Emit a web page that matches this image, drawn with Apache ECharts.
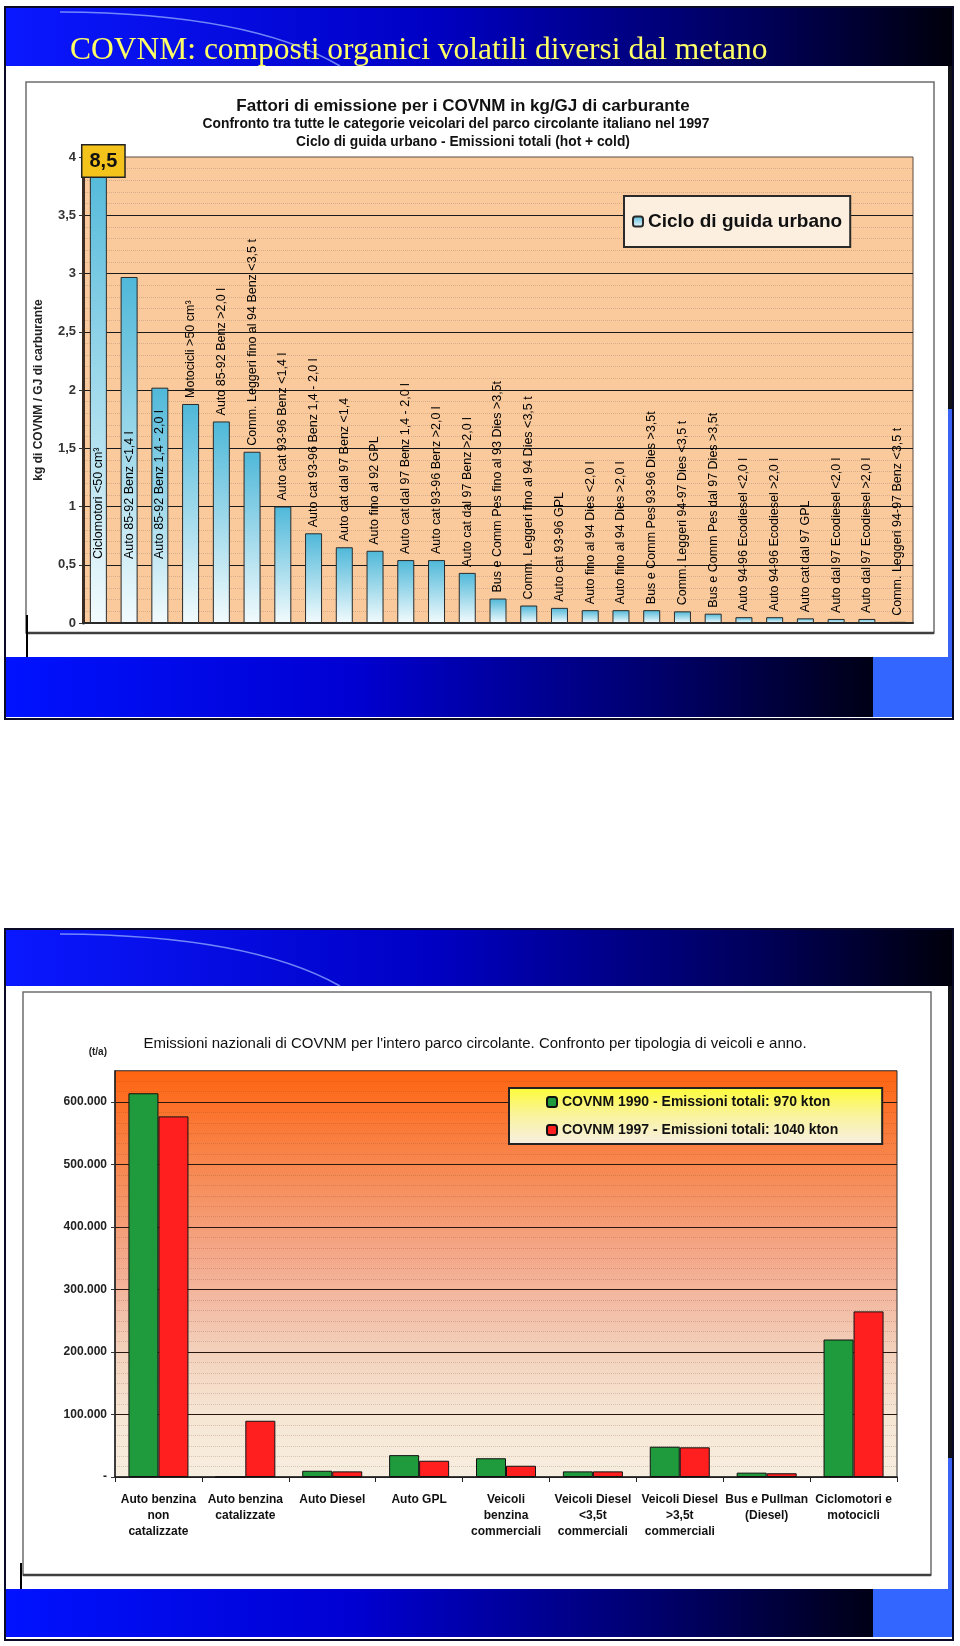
<!DOCTYPE html>
<html>
<head>
<meta charset="utf-8">
<script src="https://cdn.jsdelivr.net/npm/echarts@6/dist/echarts.min.js"></script>
<style>
html,body{margin:0;padding:0;background:#fff;}
#c{width:960px;height:1646px;}
</style>
</head>
<body>
<div id="c"></div>
<script>
// ---------------- DATA: chart 1 (emission factors, kg/GJ) ----------------
const cat1 = [
  'Ciclomotori <50 cm³',
  'Auto 85-92 Benz <1,4 l',
  'Auto 85-92 Benz 1,4 - 2,0 l',
  'Motocicli >50 cm³',
  'Auto 85-92 Benz >2,0 l',
  'Comm. Leggeri fino al 94 Benz <3,5 t',
  'Auto cat 93-96 Benz <1,4 l',
  'Auto cat 93-96 Benz 1,4 - 2,0 l',
  'Auto cat dal 97 Benz <1,4',
  'Auto fino al 92 GPL',
  'Auto cat dal 97 Benz 1,4 - 2,0 l',
  'Auto cat 93-96 Benz >2,0 l',
  'Auto cat dal 97 Benz >2,0 l',
  'Bus e Comm Pes fino al 93 Dies >3,5t',
  'Comm. Leggeri fino al 94 Dies <3,5 t',
  'Auto cat 93-96 GPL',
  'Auto fino al 94 Dies <2,0 l',
  'Auto fino al 94 Dies >2,0 l',
  'Bus e Comm Pes 93-96 Dies >3,5t',
  'Comm. Leggeri 94-97 Dies <3,5 t',
  'Bus e Comm Pes dal 97 Dies >3,5t',
  'Auto 94-96 Ecodiesel <2,0 l',
  'Auto 94-96 Ecodiesel >2,0 l',
  'Auto cat dal 97 GPL',
  'Auto dal 97 Ecodiesel <2,0 l',
  'Auto dal 97 Ecodiesel >2,0 l',
  'Comm. Leggeri 94-97 Benz <3,5 t'
];
const val1 = [8.5, 2.97, 2.02, 1.88, 1.73, 1.47, 1.00, 0.77, 0.65, 0.62, 0.54, 0.54, 0.43,
  0.21, 0.15, 0.13, 0.11, 0.11, 0.11, 0.10, 0.08, 0.05, 0.05, 0.04, 0.035, 0.035, 0.01];
const series1Name = 'Ciclo di guida urbano';
const y1Max = 4;
const y1Step = 0.5;

// ---------------- DATA: chart 2 (national emissions, t/a) ----------------
const cat2 = [
  'Auto benzina\nnon\ncatalizzate',
  'Auto benzina\ncatalizzate',
  'Auto Diesel',
  'Auto GPL',
  'Veicoli\nbenzina\ncommerciali',
  'Veicoli Diesel\n<3,5t\ncommerciali',
  'Veicoli Diesel\n>3,5t\ncommerciali',
  'Bus e Pullman\n(Diesel)',
  'Ciclomotori e\nmotocicli'
];
const val1990 = [614000, 0, 10000, 35000, 30000, 9000, 48500, 7000, 220000];
const val1997 = [577000, 90000, 9000, 26000, 18000, 9000, 47500, 6000, 265000];
const series2Names = ['COVNM 1990 - Emissioni totali: 970 kton', 'COVNM 1997 - Emissioni totali: 1040 kton'];
const y2Max = 650000;
const y2Step = 100000;

// ---------------- texts ----------------
const slideTitle = 'COVNM: composti organici volatili diversi dal metano';
const c1Title = 'Fattori di emissione per i COVNM in kg/GJ di carburante';
const c1Sub1 = 'Confronto tra tutte le categorie veicolari del parco circolante italiano nel 1997';
const c1Sub2 = 'Ciclo di guida urbano - Emissioni totali (hot + cold)';
const c1YName = 'kg di COVNM / GJ di carburante';
const c2Title = "Emissioni nazionali di COVNM per l'intero parco circolante. Confronto per tipologia di veicoli e anno.";
const c2YName = '(t/a)';

// ---------------- helpers ----------------
const FONT = '"Liberation Sans", Arial, Helvetica, sans-serif';
const fmtComma = v => String(v).replace('.', ',');
const fmtThousands = v => v === 0 ? '-' : String(v).replace(/\B(?=(\d{3})+(?!\d))/g, '.');
const LG = echarts.graphic.LinearGradient;

function slideDecor(y0, hb, cb, bb, ob, fr, ll, rs) {
  const headerGrad = new LG(0, 0, 1, 0, [
    {offset: 0, color: '#0a18ff'}, {offset: 0.45, color: '#0000c4'},
    {offset: 0.8, color: '#000058'}, {offset: 1, color: '#00000c'}]);
  const bandGrad = new LG(0, 0, 1, 0, [
    {offset: 0, color: '#0012ff'}, {offset: 0.4, color: '#0000d2'},
    {offset: 0.75, color: '#00006c'}, {offset: 1, color: '#000016'}]);
  return [
    {type: 'rect', z: -20, shape: {x: 5, y: y0, width: 948, height: ob - y0}, style: {fill: '#ffffff', stroke: '#0a0a28', lineWidth: 2}},
    {type: 'rect', z: -19, shape: {x: 6, y: y0 + 1, width: 946, height: hb - y0 - 1}, style: {fill: headerGrad}},
    {type: 'bezierCurve', z: -18, shape: {x1: 60, y1: y0 + 5, cpx1: 250, cpy1: y0 + 6, x2: 340, y2: hb}, style: {stroke: 'rgba(150,175,255,0.75)', lineWidth: 1.5, fill: null}},
    {type: 'rect', z: -19, shape: {x: 6, y: cb, width: 867, height: bb - cb}, style: {fill: bandGrad}},
    {type: 'rect', z: -19, shape: {x: 873, y: cb, width: 79, height: bb - cb}, style: {fill: '#3366ff'}},
    {type: 'rect', z: -18, shape: {x: fr[0], y: fr[1], width: fr[2], height: fr[3]}, style: {fill: null, stroke: '#6e6e6e', lineWidth: 1.5}},
    {type: 'line', z: -17, shape: {x1: fr[0], y1: fr[1] + fr[3], x2: fr[0] + fr[2], y2: fr[1] + fr[3]}, style: {stroke: '#404040', lineWidth: 2.5}},
    {type: 'line', z: -17, shape: {x1: ll[0], y1: ll[1], x2: ll[0], y2: ll[2]}, style: {stroke: '#000', lineWidth: 2}},
    {type: 'rect', z: -18, shape: {x: 948, y: hb, width: 4, height: rs - hb}, style: {fill: '#111118'}},
    {type: 'rect', z: -18, shape: {x: 948, y: rs, width: 4, height: cb - rs}, style: {fill: '#3a62f5'}}
  ];
}

const chart = echarts.init(document.getElementById('c'), null, {renderer: 'canvas'});

const barGrad = new LG(0, 0, 0, 1, [
  {offset: 0, color: '#4fb8d9'}, {offset: 1, color: '#f2fbfd'}]);

const series1Data = val1.map(v => v > y1Max ? {
  value: v,
  label: {
    show: true, position: 'insideTop', distance: -11, offset: [5, 0],
    formatter: p => fmtComma(p.value),
    fontFamily: FONT, fontSize: 20, fontWeight: 'bold', color: '#111',
    backgroundColor: '#f3c31c', borderColor: '#222', borderWidth: 1.5, padding: [6, 7, 5, 7]
  }
} : v);

const labelData = val1.map(v => v >= 2 ? {value: v, label: {position: 'insideBottom', distance: 64}} : v);

const grid2Grad = new LG(0, 0, 0, 1, [
  {offset: 0, color: '#ff6410'}, {offset: 0.12, color: '#fb7632'},
  {offset: 0.25, color: '#f78a54'}, {offset: 0.4, color: '#f4a07c'},
  {offset: 0.55, color: '#f3b79f'}, {offset: 0.7, color: '#f3d3be'},
  {offset: 0.85, color: '#f6e6d4'}, {offset: 1, color: '#f7eee0'}]);

const legend2Grad = new LG(0, 0, 0, 1, [
  {offset: 0, color: '#fdfc36'}, {offset: 0.5, color: '#f9f3a0'}, {offset: 1, color: '#f7efe3'}]);

const option = {
  backgroundColor: '#ffffff',
  animation: false,
  graphic: {
    elements: [].concat(
      slideDecor(7, 66, 657, 717, 719, [26, 82, 908, 551], [27, 615, 657], 409),
      slideDecor(929, 986, 1589, 1637, 1640, [23, 992, 908, 583], [21, 1563, 1589], 1458)
    )
  },
  title: [
    {text: slideTitle, left: 70, top: 35, padding: 0,
      textStyle: {fontFamily: '"Liberation Serif", "Times New Roman", serif', fontSize: 31.5, fontWeight: 'normal', color: '#ffff66'}},
    {text: c1Title, left: 463, top: 98, padding: 0, textAlign: 'center',
      textStyle: {fontFamily: FONT, fontSize: 17, fontWeight: 'bold', color: '#111'}},
    {text: c1Sub1, left: 456, top: 117, padding: 0, textAlign: 'center',
      textStyle: {fontFamily: FONT, fontSize: 13.8, fontWeight: 'bold', color: '#111'}},
    {text: c1Sub2, left: 463, top: 135, padding: 0, textAlign: 'center',
      textStyle: {fontFamily: FONT, fontSize: 13.8, fontWeight: 'bold', color: '#111'}},
    {text: c2Title, left: 475, top: 1036, padding: 0, textAlign: 'center',
      textStyle: {fontFamily: FONT, fontSize: 15, fontWeight: 'normal', color: '#111'}}
  ],
  legend: [
    {data: [series1Name], left: 624, top: 196, orient: 'horizontal',
      padding: [16, 8, 16, 8], itemWidth: 10, itemHeight: 10, itemGap: 5,
      backgroundColor: '#fcefdf', borderColor: '#2a2a2a', borderWidth: 2,
      textStyle: {fontFamily: FONT, fontSize: 19, fontWeight: 'bold', color: '#111'}},
    {data: series2Names, left: 509, top: 1088, orient: 'vertical',
      padding: [7, 44, 7, 37], itemWidth: 10, itemHeight: 10, itemGap: 14,
      backgroundColor: legend2Grad, borderColor: '#222', borderWidth: 2,
      textStyle: {fontFamily: FONT, fontSize: 14, fontWeight: 'bold', color: '#111'}}
  ],
  grid: [
    {left: 83, top: 157, width: 830, height: 466, show: true,
      backgroundColor: '#fbca9c', borderColor: '#5a4a40', borderWidth: 1},
    {left: 115, top: 1070.75, width: 782, height: 406.25, show: true,
      backgroundColor: grid2Grad, borderColor: '#2a2a2a', borderWidth: 1}
  ],
  xAxis: [
    {type: 'category', gridIndex: 0, data: cat1,
      axisLabel: {show: false}, axisTick: {show: false},
      axisLine: {show: true, lineStyle: {color: '#2a2a2a', width: 2}}},
    {type: 'category', gridIndex: 1, data: cat2,
      axisTick: {show: true, length: 5, lineStyle: {color: '#222', width: 1}},
      axisLine: {show: true, lineStyle: {color: '#222', width: 1.5}},
      axisLabel: {interval: 0, fontFamily: FONT, fontSize: 12, fontWeight: 'bold', color: '#111', lineHeight: 16, margin: 15}}
  ],
  yAxis: [
    {type: 'value', gridIndex: 0, min: 0, max: y1Max, interval: y1Step,
      name: c1YName, nameLocation: 'middle', nameGap: 38, nameRotate: 90,
      nameTextStyle: {fontFamily: FONT, fontSize: 12, fontWeight: 'bold', color: '#222'},
      axisLine: {show: true, lineStyle: {color: '#3a2c24', width: 3}},
      axisTick: {show: true, length: 4, lineStyle: {color: '#333'}},
      axisLabel: {margin: 7, fontFamily: FONT, fontSize: 13, fontWeight: 'bold', color: '#333', formatter: fmtComma},
      splitLine: {show: true, showMaxLine: false, lineStyle: {color: '#1a1a1a', width: 1.2}},
      minorTick: {show: false, splitNumber: 5},
      minorSplitLine: {show: true, lineStyle: {color: 'rgba(120,100,90,0.28)', type: 'dotted', width: 1}}},
    {type: 'value', gridIndex: 1, min: 0, max: y2Max, interval: y2Step,
      name: c2YName, nameLocation: 'end', nameGap: 14,
      nameTextStyle: {fontFamily: FONT, fontSize: 10, fontWeight: 'bold', color: '#222', align: 'right', padding: [0, 8, 0, 0]},
      axisLine: {show: true, lineStyle: {color: '#222', width: 1.5}},
      axisTick: {show: true, length: 4, lineStyle: {color: '#333'}},
      axisLabel: {margin: 8, fontFamily: FONT, fontSize: 12, fontWeight: 'bold', color: '#222', formatter: fmtThousands, showMaxLabel: false},
      splitLine: {show: true, showMaxLine: false, lineStyle: {color: '#2a1810', width: 1.2}},
      minorTick: {show: false, splitNumber: 6},
      minorSplitLine: {show: true, lineStyle: {color: 'rgba(120,60,30,0.22)', type: 'dotted', width: 1}}}
  ],
  series: [
    {name: series1Name, type: 'bar', xAxisIndex: 0, yAxisIndex: 0, data: series1Data,
      barWidth: 17, clip: true, z: 2,
      itemStyle: {color: barGrad, borderColor: '#2a2a2a', borderWidth: 1}},
    {name: '_labels', type: 'bar', xAxisIndex: 0, yAxisIndex: 0, data: labelData,
      barWidth: 17, barGap: '-100%', clip: true, silent: true, z: 3,
      itemStyle: {color: 'rgba(0,0,0,0)', borderWidth: 0},
      label: {show: true, formatter: '{b}', position: 'top', distance: 6, rotate: 90,
        align: 'left', verticalAlign: 'middle', fontFamily: FONT, fontSize: 12.5, color: '#000'}},
    {name: series2Names[0], type: 'bar', xAxisIndex: 1, yAxisIndex: 1, data: val1990,
      barWidth: 30, barGap: '0%',
      itemStyle: {color: '#1f9b3d', borderColor: '#111', borderWidth: 1}},
    {name: series2Names[1], type: 'bar', xAxisIndex: 1, yAxisIndex: 1, data: val1997,
      barWidth: 30, barGap: '0%',
      itemStyle: {color: '#ff1f1f', borderColor: '#111', borderWidth: 1}}
  ]
};
chart.setOption(option);
</script>
</body>
</html>
